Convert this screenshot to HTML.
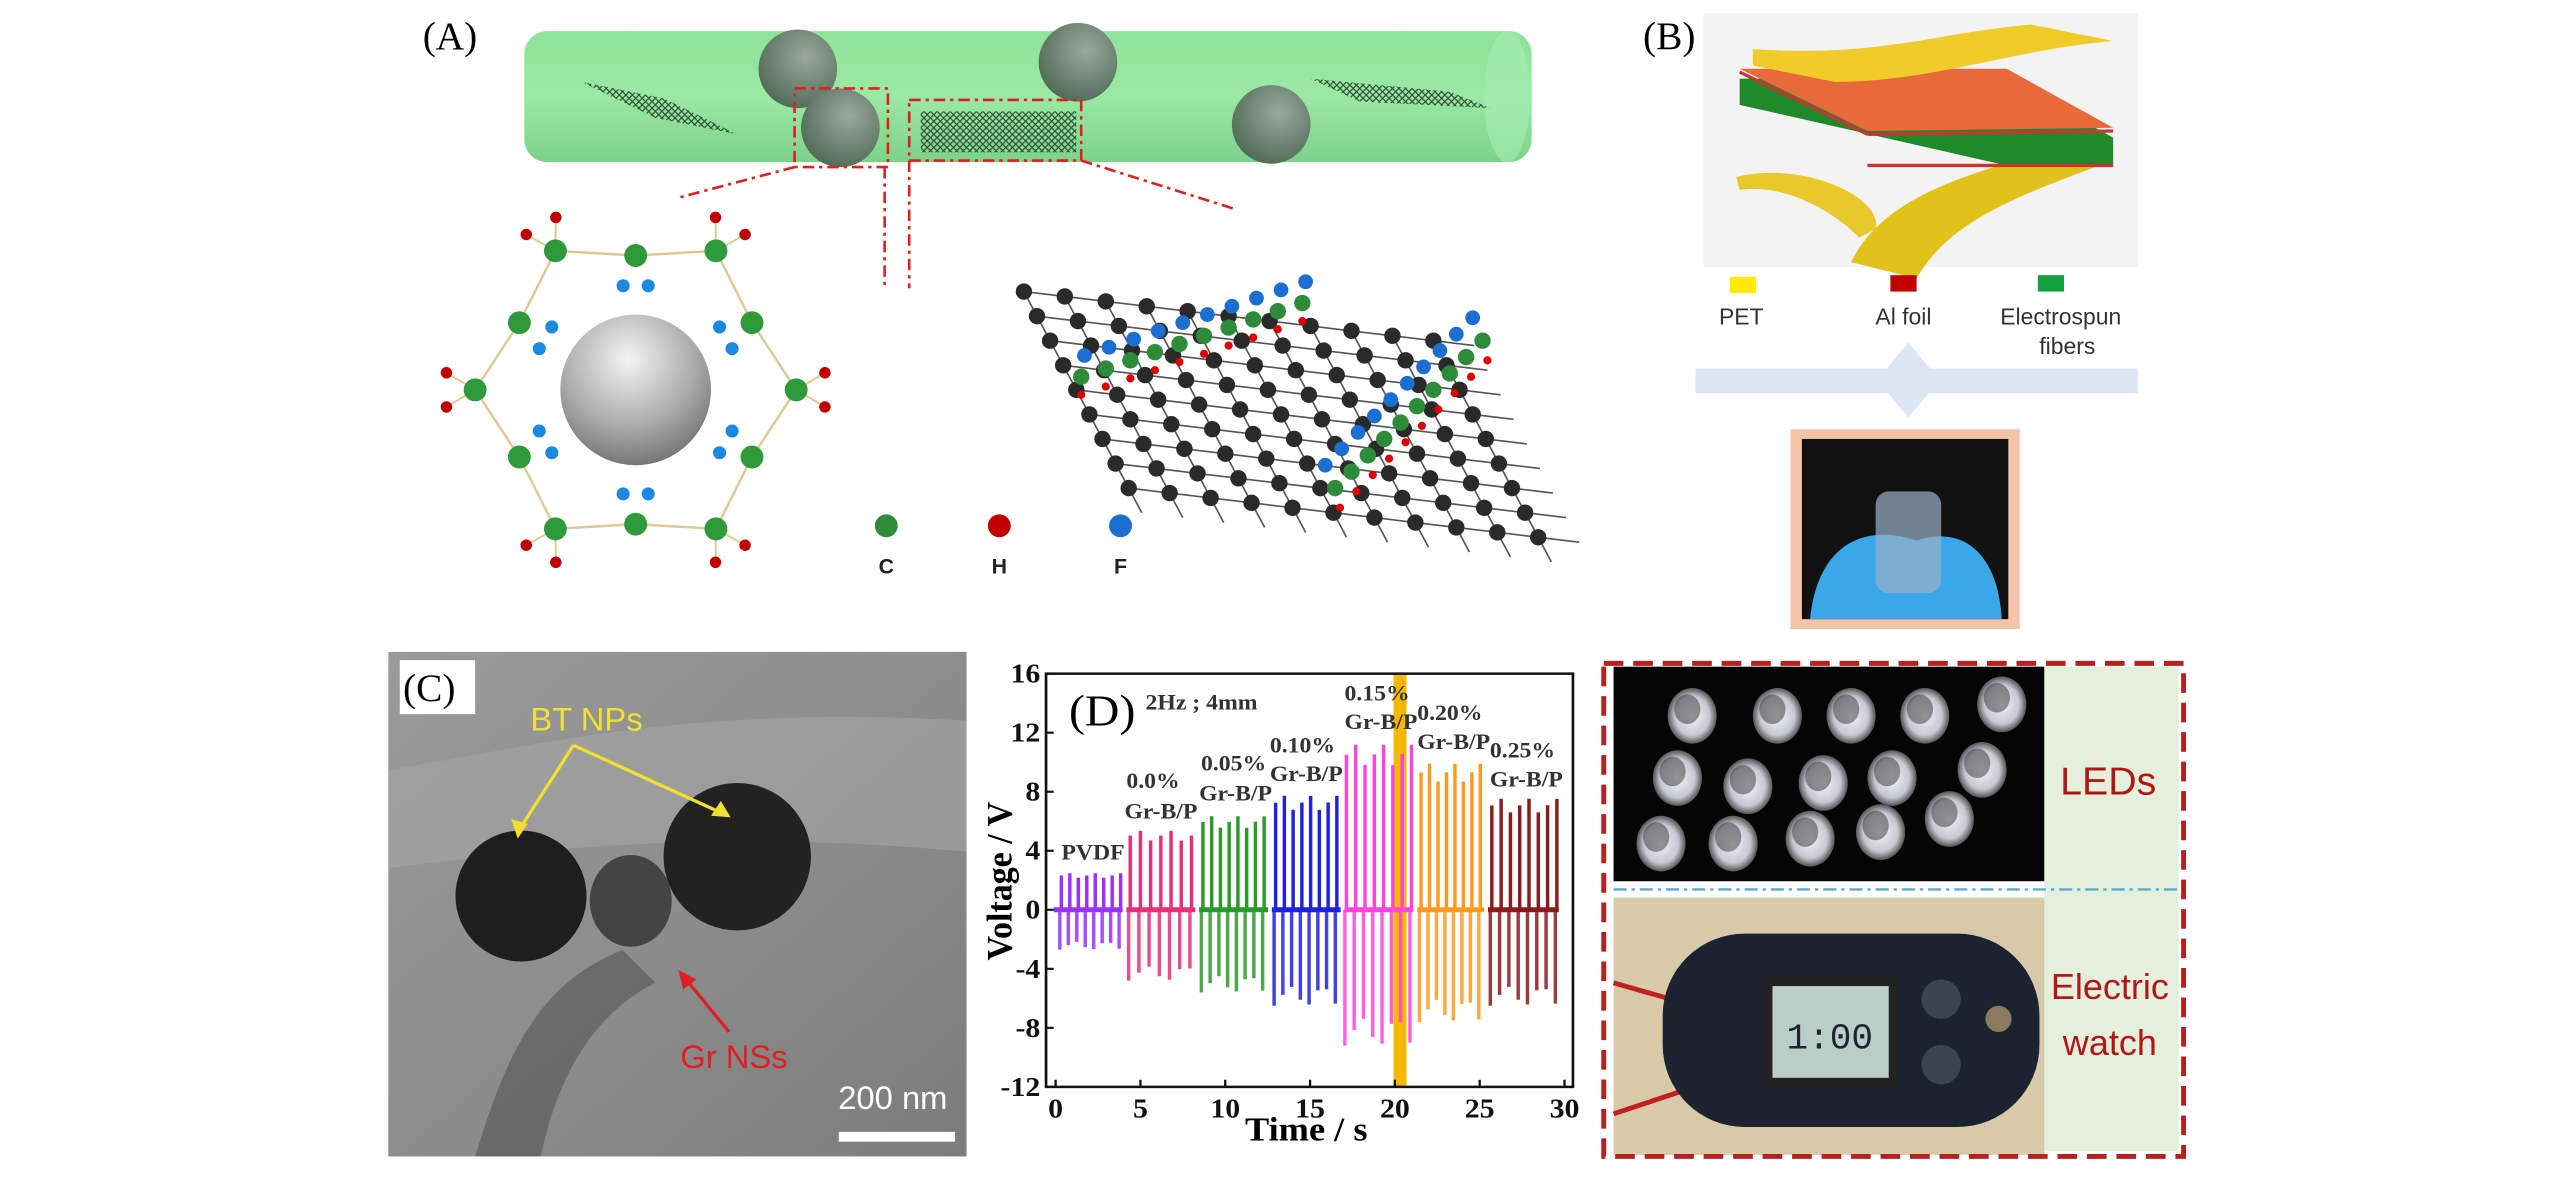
<!DOCTYPE html>
<html><head><meta charset="utf-8"><style>html,body{margin:0;padding:0;background:#fff}svg{display:block}</style></head>
<body>
<svg width="2567" height="1181" viewBox="0 0 1567 721" xmlns="http://www.w3.org/2000/svg" font-family="Liberation Serif, serif">
<defs>
<linearGradient id="tube" x1="0" y1="0" x2="0" y2="1"><stop offset="0" stop-color="#8fe39a"/><stop offset="0.5" stop-color="#9ae8a4"/><stop offset="1" stop-color="#7dd28a"/></linearGradient>
<radialGradient id="sph" cx="0.6" cy="0.35" r="0.7"><stop offset="0" stop-color="#9aa89c"/><stop offset="1" stop-color="#4f6a55"/></radialGradient>
<radialGradient id="gs" cx="0.45" cy="0.3" r="0.75"><stop offset="0" stop-color="#f4f4f4"/><stop offset="0.6" stop-color="#a9a9a9"/><stop offset="1" stop-color="#6d6d6d"/></radialGradient>
<linearGradient id="tem" x1="0" y1="0" x2="1" y2="1"><stop offset="0" stop-color="#9a9a9a"/><stop offset="0.5" stop-color="#8d8d8d"/><stop offset="1" stop-color="#7c7c7c"/></linearGradient>
<radialGradient id="led" cx="0.5" cy="0.5" r="0.5"><stop offset="0" stop-color="#f2f2f8"/><stop offset="0.7" stop-color="#c8c8d4"/><stop offset="1" stop-color="#555"/></radialGradient>
<pattern id="mesh" width="4" height="4" patternUnits="userSpaceOnUse"><path d="M0 0L4 4M4 0L0 4" stroke="#2c4a32" stroke-width="0.7"/></pattern>
</defs>

<!-- (A) -->
<text x="258" y="30" font-size="24">(A)</text>
<rect x="320" y="19" width="615" height="80" rx="14" fill="url(#tube)"/>
<ellipse cx="920" cy="59" rx="14" ry="40" fill="#a6eeb0" opacity="0.6"/>
<polygon points="355,50 405,60 450,82 400,72" fill="url(#mesh)"/>
<polygon points="800,48 885,56 910,66 830,62" fill="url(#mesh)"/>
<rect x="562" y="68" width="95" height="25" fill="url(#mesh)"/>
<circle cx="487" cy="42" r="24" fill="url(#sph)"/>
<circle cx="658" cy="38" r="24" fill="url(#sph)"/>
<circle cx="513" cy="78" r="24" fill="url(#sph)"/>
<circle cx="776" cy="76" r="24" fill="url(#sph)"/>
<g fill="none" stroke="#e02020" stroke-width="1.6" stroke-dasharray="7,3,2,3">
<rect x="485" y="54" width="57" height="48"/>
<rect x="555" y="61" width="105" height="37"/>
<line x1="485" y1="102" x2="413" y2="121"/>
<line x1="660" y1="98" x2="755" y2="128"/>
<line x1="540" y1="102" x2="540" y2="176"/>
<line x1="555" y1="98" x2="555" y2="176"/>
</g>
<g id="atoms"></g>
<circle cx="388" cy="238" r="46" fill="url(#gs)"/>
<g id="graph"></g>
<circle cx="541" cy="321" r="7" fill="#2e8b3a"/>
<circle cx="610" cy="321" r="7" fill="#c00000"/>
<circle cx="684" cy="321" r="7" fill="#1a6fd0"/>
<g font-family="Liberation Sans, sans-serif" font-weight="bold" font-size="13" fill="#222" text-anchor="middle">
<text x="541" y="350">C</text><text x="610" y="350">H</text><text x="684" y="350">F</text></g>

<!-- (B) -->
<text x="1003" y="30" font-size="24">(B)</text>
<rect x="1040" y="8" width="265" height="155" fill="#f3f3f3"/>
<path d="M1130,160 C1150,120 1200,105 1270,88 L1290,98 C1230,120 1190,135 1170,170 Z" fill="#e0c21a"/>
<path d="M1060,108 C1100,98 1150,120 1145,140 L1135,145 C1115,125 1085,112 1062,116Z" fill="#e8c82a"/>
<polygon points="1062,48 1225,48 1290,84 1290,101 1225,101 1062,64" fill="#1e8a2a"/>
<polygon points="1062,42 1225,42 1290,78 1140,80" fill="#e86a3a"/>
<line x1="1062" y1="44" x2="1140" y2="82" stroke="#c33" stroke-width="2"/>
<line x1="1140" y1="82" x2="1290" y2="80" stroke="#c33" stroke-width="2"/>
<line x1="1140" y1="101" x2="1290" y2="101" stroke="#c33" stroke-width="2"/>
<path d="M1070,30 C1150,35 1180,20 1240,15 L1290,25 C1230,30 1180,50 1120,50 L1070,40Z" fill="#f0cc2a"/>
<rect x="1056" y="169" width="16" height="10" fill="#ffea00"/>
<rect x="1154" y="168" width="16" height="10" fill="#c00000"/>
<rect x="1244" y="168" width="16" height="10" fill="#12a040"/>
<g font-family="Liberation Sans, sans-serif" font-size="14" fill="#333" text-anchor="middle">
<text x="1063" y="198">PET</text><text x="1162" y="198">Al foil</text><text x="1258" y="198">Electrospun</text><text x="1262" y="216">fibers</text></g>
<rect x="1035" y="225" width="270" height="15" fill="#dce6f2"/>
<polygon points="1165,209 1184,232 1165,255 1146,232" fill="#dce6f2"/>
<rect x="1093" y="262" width="140" height="122" fill="#f4c4a8"/>
<rect x="1100" y="268" width="126" height="110" fill="#111"/>
<path d="M1105,378 C1110,330 1140,320 1170,330 C1200,320 1220,340 1222,378Z" fill="#3aa8e8"/>
<rect x="1145" y="300" width="40" height="62" rx="8" fill="#9ab0c8" opacity="0.7"/>

<!-- (C) -->
<rect x="237" y="398" width="353" height="308" fill="url(#tem)"/>
<path d="M237,470 C330,455 420,430 590,440 L590,520 C430,505 320,520 237,530Z" fill="#a5a5a5" opacity="0.6"/>
<path d="M290,706 C310,640 330,600 380,580 L400,600 C360,620 340,660 330,706Z" fill="#555" opacity="0.6"/>
<circle cx="318" cy="547" r="40" fill="#1e1e1e"/>
<circle cx="450" cy="523" r="45" fill="#222"/>
<ellipse cx="385" cy="550" rx="25" ry="28" fill="#444"/>
<rect x="244" y="403" width="46" height="33" fill="#fff"/>
<text x="246" y="428" font-size="24">(C)</text>
<text x="358" y="446" font-family="Liberation Sans, sans-serif" font-size="20" fill="#f0e030" text-anchor="middle">BT NPs</text>
<g stroke="#f0e030" stroke-width="2"><line x1="350" y1="455" x2="316" y2="508"/><line x1="350" y1="455" x2="442" y2="497"/></g>
<polygon points="316,512 312,500 322,503" fill="#f0e030"/><polygon points="446,499 434,498 440,489" fill="#f0e030"/>
<line x1="445" y1="630" x2="418" y2="597" stroke="#e02020" stroke-width="2"/>
<polygon points="414,592 425,598 417,604" fill="#e02020"/>
<text x="448" y="652" font-family="Liberation Sans, sans-serif" font-size="20" fill="#e02020" text-anchor="middle">Gr NSs</text>
<text x="545" y="677" font-family="Liberation Sans, sans-serif" font-size="20" fill="#fff" text-anchor="middle">200 nm</text>
<rect x="512" y="691" width="71" height="6" fill="#fff"/>

<!-- (D) plot -->
<svg x="610.5" y="378.5" width="366.3" height="342.5" viewBox="0 0 1568 1568" preserveAspectRatio="none" overflow="visible">
<rect x="1028" y="150" width="34" height="1155" fill="#f5b800"/>
<g id="spikes"></g>
<rect x="120" y="150" width="1377" height="1155" fill="none" stroke="#111" stroke-width="7"/>
<g font-weight="bold" font-size="78" fill="#111" text-anchor="end" id="ylab"></g>
<g font-weight="bold" font-size="78" fill="#111" text-anchor="middle" id="xlab"></g>
<text x="800" y="1455" font-weight="bold" font-size="95" text-anchor="middle">Time / s</text>
<text transform="translate(30,730) rotate(-90)" font-weight="bold" font-size="95" text-anchor="middle">Voltage / V</text>
<text x="180" y="295" font-size="125">(D)</text>
<g font-weight="bold" font-size="62" fill="#333">
<text x="380" y="250">2Hz ; 4mm</text>
<text x="160" y="670">PVDF</text>
<text x="330" y="470">0.0%</text><text x="325" y="555">Gr-B/P</text>
<text x="525" y="420">0.05%</text><text x="520" y="505">Gr-B/P</text>
<text x="705" y="370">0.10%</text><text x="705" y="450">Gr-B/P</text>
<text x="900" y="225">0.15%</text><text x="900" y="305">Gr-B/P</text>
<text x="1090" y="280">0.20%</text><text x="1090" y="360">Gr-B/P</text>
<text x="1280" y="385">0.25%</text><text x="1280" y="465">Gr-B/P</text>
</g>
</svg>

<!-- right panel -->
<rect x="985" y="407" width="263" height="131" fill="#050505"/>
<rect x="1248" y="407" width="82" height="296" fill="#e4f0dc"/>
<g id="leds"></g>
<text x="1287" y="485" font-family="Liberation Sans, sans-serif" font-size="24" fill="#b01818" text-anchor="middle">LEDs</text>
<line x1="985" y1="543" x2="1330" y2="543" stroke="#5aaad0" stroke-width="1.5" stroke-dasharray="8,3,2,3"/>
<rect x="985" y="548" width="263" height="157" fill="#d8c9a8"/>
<path d="M985,600 L1020,610 M985,680 L1030,665" stroke="#c02020" stroke-width="3"/>
<rect x="1015" y="570" width="230" height="118" rx="50" fill="#1c2330"/>
<rect x="1075" y="595" width="85" height="70" fill="#222"/>
<rect x="1082" y="602" width="71" height="56" fill="#b8cfc8"/>
<text x="1117" y="640" font-family="Liberation Mono, monospace" font-size="22" fill="#223" text-anchor="middle">1:00</text>
<circle cx="1185" cy="610" r="12" fill="#3a4450"/><circle cx="1185" cy="650" r="12" fill="#3a4450"/><circle cx="1220" cy="622" r="8" fill="#8a7a60"/>
<text x="1288" y="610" font-family="Liberation Sans, sans-serif" font-size="22" fill="#b01818" text-anchor="middle">Electric</text>
<text x="1288" y="644" font-family="Liberation Sans, sans-serif" font-size="22" fill="#b01818" text-anchor="middle">watch</text>
<rect x="979" y="405" width="354" height="301" fill="none" stroke="#b82020" stroke-width="3" stroke-dasharray="12,6"/>
</svg>
<script>
var NS="http://www.w3.org/2000/svg";
function el(p,t,a){var e=document.createElementNS(NS,t);for(var k in a)e.setAttribute(k,a[k]);p.appendChild(e);return e;}
var at=document.getElementById('atoms');var cx=388,cy=238;
var pts=[];
for(var i=0;i<12;i++){var a=i*Math.PI/6,R=(i%2?82:98);pts.push([cx+R*Math.cos(a),cy+R*Math.sin(a),a,R]);}
for(var i=0;i<12;i++){var p=pts[i],q=pts[(i+1)%12];el(at,'line',{x1:p[0],y1:p[1],x2:q[0],y2:q[1],stroke:'#e0c898','stroke-width':1.5});}
pts.forEach(function(p,i){var a=p[2];
 if(i%2==0){el(at,'line',{x1:p[0],y1:p[1],x2:cx+116*Math.cos(a-0.09),y2:cy+116*Math.sin(a-0.09),stroke:'#e0c898','stroke-width':1.2});
  el(at,'line',{x1:p[0],y1:p[1],x2:cx+116*Math.cos(a+0.09),y2:cy+116*Math.sin(a+0.09),stroke:'#e0c898','stroke-width':1.2});
  el(at,'circle',{cx:cx+116*Math.cos(a-0.09),cy:cy+116*Math.sin(a-0.09),r:3.5,fill:'#c00000'});
  el(at,'circle',{cx:cx+116*Math.cos(a+0.09),cy:cy+116*Math.sin(a+0.09),r:3.5,fill:'#c00000'});}
 else{el(at,'circle',{cx:cx+64*Math.cos(a-0.12),cy:cy+64*Math.sin(a-0.12),r:4,fill:'#1a8ae0'});
  el(at,'circle',{cx:cx+64*Math.cos(a+0.12),cy:cy+64*Math.sin(a+0.12),r:4,fill:'#1a8ae0'});}
 el(at,'circle',{cx:p[0],cy:p[1],r:7,fill:'#2e9a3a'});});
var g=document.getElementById('graph');
for(var r=0;r<9;r++)for(var c=0;c<11;c++){var x=625+c*25+r*8,y=178+r*15+c*3;
 el(g,'line',{x1:x,y1:y,x2:x+25,y2:y+3,stroke:'#555','stroke-width':1});
 el(g,'line',{x1:x,y1:y,x2:x+8,y2:y+15,stroke:'#555','stroke-width':1});
 el(g,'circle',{cx:x,cy:y,r:5,fill:'#2a2a2a'});}
for(var k=0;k<10;k++){var x=660+k*15,y=222-k*5;el(g,'circle',{cx:x,cy:y+8,r:5,fill:'#2e8b3a'});el(g,'circle',{cx:x+2,cy:y-5,r:4.5,fill:'#1a6fd0'});el(g,'circle',{cx:x,cy:y+19,r:2.5,fill:'#d00'});}
for(var k=0;k<10;k++){var x=815+k*10,y=290-k*10;el(g,'circle',{cx:x,cy:y+8,r:5,fill:'#2e8b3a'});el(g,'circle',{cx:x-6,cy:y-6,r:4.5,fill:'#1a6fd0'});el(g,'circle',{cx:x+3,cy:y+20,r:2.5,fill:'#d00'});}
var sp=document.getElementById('spikes');
var G=[[140,320,160,315,8,2.5,2.7,'#9b30ff'],[330,510,340,500,7,5.4,4.8,'#e8307a'],[520,700,530,690,8,6.4,5.6,'#2a9a2a'],[710,890,720,880,8,7.8,6.5,'#2020e0'],[900,1080,905,1075,8,11.3,9.2,'#ff44dd'],[1090,1265,1100,1255,8,10,7.6,'#ff9a20'],[1275,1460,1285,1455,8,7.6,6.5,'#8b1a1a']];
G.forEach(function(q){el(sp,'line',{x1:q[0],y1:810,x2:q[1],y2:810,stroke:q[7],'stroke-width':14});
 for(var i=0;i<q[4];i++){var x=q[2]+(q[3]-q[2])*i/(q[4]-1);var p=q[5]*(0.93+0.07*Math.sin(i*2.1)),n=q[6]*(0.9+0.1*Math.cos(i*1.7));
 el(sp,'line',{x1:x,y1:810-p*41.25,x2:x,y2:810,stroke:q[7],'stroke-width':9});
 el(sp,'line',{x1:x-4,y1:810,x2:x-4,y2:810+n*41.25,stroke:q[7],'stroke-width':9,opacity:0.85});}});
var yl=document.getElementById('ylab');
for(var v=-12;v<=16;v+=4){var y=810-v*41.25;var t=el(yl,'text',{x:105,y:y+25});t.textContent=v;el(sp,'line',{x1:120,y1:y,x2:140,y2:y,stroke:'#111','stroke-width':6});}
var xl=document.getElementById('xlab');
for(var s=0;s<=30;s+=5){var x=145+s*44.33;var t=el(xl,'text',{x:x,y:1390});t.textContent=s;el(sp,'line',{x1:x,y1:1305,x2:x,y2:1285,stroke:'#111','stroke-width':6});}
var ld=document.getElementById('leds');
var P=[[1033,437],[1085,437],[1130,437],[1175,437],[1222,430],[1024,475],[1067,480],[1113,478],[1155,475],[1210,470],[1014,515],[1058,515],[1105,512],[1148,508],[1190,500]];
P.forEach(function(p){el(ld,'ellipse',{cx:p[0],cy:p[1],rx:15,ry:17,fill:'url(#led)'});el(ld,'ellipse',{cx:p[0]-3,cy:p[1]-4,rx:8,ry:9,fill:'#333',opacity:0.5});});
</script>
</body></html>
